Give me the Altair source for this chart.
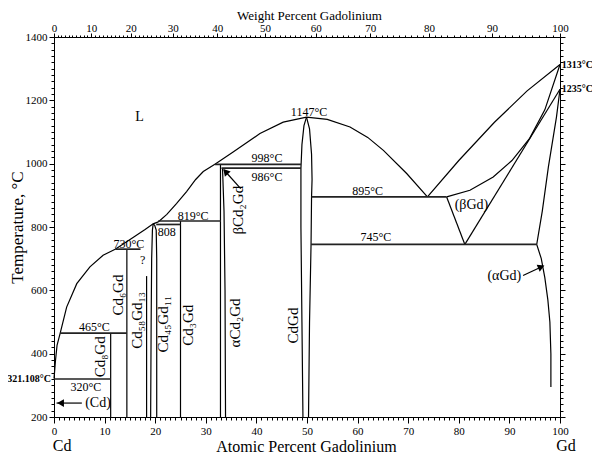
import altair as alt
import pandas as pd

FONT = "Liberation Serif"

# ---------------- phase boundaries: (atomic % Gd, temperature °C) ----------------
liq_cd = [(0, 321.1), (0.3, 379), (0.6, 426), (1.2, 463), (2.5, 547), (4.5, 621),
          (7.1, 674), (9.7, 711), (12.1, 730)]
liq_mid = [(12.1, 730), (15.7, 768), (18.0, 792), (19.6, 810), (20.6, 816)]
liq_cd2gd = [(20.6, 816), (22.3, 840), (24.2, 874), (26.2, 912), (28.0, 950),
             (29.5, 975), (31.8, 998)]
liq_dome = [(31.8, 998), (35.4, 1037), (40.7, 1095), (45.3, 1131), (49.9, 1147),
            (54.0, 1140), (58.5, 1116), (62.0, 1083), (65.1, 1042), (69.7, 969), (73.8, 895)]
liq_gd = [(73.8, 895), (80.0, 1010), (87.0, 1130), (93.5, 1230), (100, 1313)]
sol_bgd = [(77.6, 895), (82.2, 916), (86.8, 958), (90.5, 1010), (94.0, 1080),
           (97.0, 1170), (100, 1313)]
bgd_left = [(77.6, 895), (81.2, 745)]
bgd_right = [(81.2, 745), (100, 1235)]
agd = [(100, 1235), (99.3, 1147), (97.7, 989), (96.5, 850), (95.4, 745), (96.3, 700),
       (97.0, 640), (97.6, 570), (98.0, 500), (98.2, 400), (98.2, 295)]
cdgd_left = [(49.2, 200), (49.0, 500), (48.8, 800), (48.8, 985), (49.0, 1060),
             (49.4, 1120), (49.9, 1147)]
cdgd_right = [(49.9, 1147), (50.5, 1110), (50.9, 1030), (51.0, 950), (50.9, 895),
              (50.8, 745), (50.5, 500), (50.3, 200)]
cd8gd = [(11.2, 200), (11.2, 465)]
cd6gd = [(14.4, 200), (14.4, 730)]
cd58gd13 = [(18.3, 200), (18.3, 645)]
cd45gd11_left = [(19.1, 200), (19.2, 500), (19.3, 700), (19.45, 790), (19.6, 810)]
cd45gd11_right = [(19.6, 810), (19.9, 805), (20.2, 790), (20.3, 700), (20.3, 200)]
cd3gd = [(25.0, 200), (25.0, 819)]
acd2gd_left = [(32.9, 200), (32.9, 998)]
acd2gd_right = [(33.9, 200), (33.8, 600), (33.6, 850), (33.3, 986)]

# isotherms
iso_320 = [(0, 320), (11.2, 320)]
iso_465 = [(1.2, 465), (14.4, 465)]
iso_730 = [(12.1, 730), (17.1, 730)]
iso_808 = [(20.2, 808), (25.0, 808)]
iso_819 = [(20.6, 819), (33.0, 819)]
iso_998 = [(31.8, 998), (48.8, 998)]
iso_986 = [(33.1, 986), (48.8, 986)]
iso_895 = [(50.9, 895), (77.6, 895)]
iso_745 = [(50.8, 745), (95.4, 745)]

# arrow shafts
arrow_cd = [(0.5, 244), (5.5, 244)]
arrow_bcd2gd = [(36.9, 921), (33.6, 980)]
arrow_agd = [(92.7, 647), (96.6, 676)]

# arrow heads: (a, T, angle)
heads = [(1.3, 244, 270), (33.9, 975, 318), (96.3, 674, 67)]

curves = {
    "liq_cd": liq_cd, "liq_mid": liq_mid, "liq_cd2gd": liq_cd2gd, "liq_dome": liq_dome,
    "liq_gd": liq_gd, "sol_bgd": sol_bgd, "bgd_left": bgd_left, "bgd_right": bgd_right,
    "agd": agd, "cdgd_left": cdgd_left, "cdgd_right": cdgd_right, "cd8gd": cd8gd,
    "cd6gd": cd6gd, "cd58gd13": cd58gd13, "cd45l": cd45gd11_left, "cd45r": cd45gd11_right,
    "cd3gd": cd3gd, "acd2l": acd2gd_left, "acd2r": acd2gd_right,
    "ar1": arrow_cd, "ar2": arrow_bcd2gd, "ar3": arrow_agd,
}
isotherms = {
    "i320": iso_320, "i465": iso_465, "i730": iso_730, "i808": iso_808, "i819": iso_819,
    "i998": iso_998, "i986": iso_986, "i895": iso_895, "i745": iso_745,
}

# labels: (a, T, text)
iso_labels = [(6.3, 295, "320°C"), (8.0, 484, "465°C"), (14.8, 745, "730°C"),
              (27.5, 834, "819°C"), (50.4, 1163, "1147°C"), (42.1, 1018, "998°C"),
              (42.1, 958, "986°C"), (62.0, 914, "895°C"), (63.6, 767, "745°C"),
              (17.5, 697, "?")]
label_808 = [(20.5, 784, "808")]
phase_labels = [(9.0, 390, "Cd₈Gd"), (12.6, 585, "Cd₆Gd"), (16.5, 505, "Cd₅₈Gd₁₃"),
                (21.6, 493, "Cd₄₅Gd₁₁"), (26.5, 490, "Cd₃Gd"), (35.8, 497, "αCd₂Gd"),
                (36.4, 853, "βCd₂Gd"), (47.2, 489, "CdGd")]
region_labels = [(16.9, 1146, "L"), (8.7, 244, "(Cd)"), (82.5, 868, "(βGd)"),
                 (89.0, 644, "(αGd)")]
bold_left = [(-0.6, 321.1, "321.108°C")]
bold_right = [(100.35, 1313, "1313°C"), (100.35, 1235, "1235°C")]
end_labels = [(1.6, 108, "Cd"), (101.2, 108, "Gd")]

# axis ticks
x_major = list(range(0, 101, 10))
x_minor = list(range(0, 101, 1))
y_major = list(range(200, 1401, 200))
y_minor = list(range(200, 1401, 20))
wt_major = list(range(0, 101, 10))
wt_minor = list(range(0, 101, 1))
M_GD, M_CD = 157.25, 112.41


def wt_to_at(w):
    return 100.0 * (w / M_GD) / (w / M_GD + (100 - w) / M_CD)


def seg_frame(d):
    rows = []
    for name, pts in d.items():
        for i, (a, t) in enumerate(pts):
            rows.append({"seg": name, "i": i, "a": a, "T": t})
    return pd.DataFrame(rows)


def lab_frame(lst):
    return pd.DataFrame([{"a": a, "T": t, "label": s} for a, t, s in lst])


XS = alt.Scale(domain=[0, 100], nice=False, zero=False)
YS = alt.Scale(domain=[200, 1400], nice=False, zero=False)


def X(axis=None):
    return alt.X("a:Q", scale=XS, axis=axis)


def Y(axis=None):
    return alt.Y("T:Q", scale=YS, axis=axis)


common = dict(grid=False, domainColor="black", tickColor="black", labelColor="black",
              titleColor="black", labelFont=FONT, titleFont=FONT, domainWidth=1, tickWidth=1)

ax_bottom = alt.Axis(orient="bottom", values=x_major, tickSize=6, labelFontSize=11,
                     labelPadding=2, labelFlush=False, labelOverlap=False, format="d",
                     title="Atomic Percent Gadolinium", titleFontSize=16,
                     titleFontWeight="normal", titleX=252, titleY=29,
                     titleBaseline="middle", titleAlign="center", **common)
ax_left = alt.Axis(orient="left", values=y_major, tickSize=5, labelFontSize=11,
                   labelPadding=2, labelFlush=False, labelOverlap=False, format="d",
                   title="Temperature, °C", titleFontSize=17, titleFontWeight="normal",
                   titleX=-37, titleY=190, titleAngle=270, titleBaseline="middle",
                   titleAlign="center", **common)
ax_bottom_minor = alt.Axis(orient="bottom", values=x_minor, tickSize=3, labels=False,
                           domain=False, title=None, grid=False, tickColor="black")
ax_left_minor = alt.Axis(orient="left", values=y_minor, tickSize=3, labels=False,
                         domain=False, title=None, grid=False, tickColor="black")
ax_top = alt.Axis(orient="top", values=[wt_to_at(w) for w in wt_major], tickSize=4,
                  labelFontSize=11, labelPadding=0, labelFlush=False, labelOverlap=False,
                  labelExpr="format(15725*datum.value/(157.25*datum.value+112.41*(100-datum.value)), '.0f')",
                  title="Weight Percent Gadolinium", titleFontSize=13,
                  titleFontWeight="normal", titleX=255, titleY=-22,
                  titleBaseline="middle", titleAlign="center", **common)
ax_top_minor = alt.Axis(orient="top", values=[wt_to_at(w) for w in wt_minor], tickSize=2,
                        labels=False, domain=False, title=None, grid=False, tickColor="black")
ax_right = alt.Axis(orient="right", values=y_major, tickSize=5, labels=False, title=None,
                    **common)
ax_right_minor = alt.Axis(orient="right", values=y_minor, tickSize=3, labels=False,
                          domain=False, title=None, grid=False, tickColor="black")

dummy = pd.DataFrame({"a": [0, 100], "T": [200, 1400]})

main_lines = alt.Chart(seg_frame(curves)).mark_line(color="black", strokeWidth=1.2).encode(
    x=X(ax_bottom), y=Y(ax_left), detail="seg:N", order="i:Q")
iso_lines = alt.Chart(seg_frame(isotherms)).mark_line(color="#222222", strokeWidth=1.7).encode(
    x=X(), y=Y(), detail="seg:N", order="i:Q")
minor1 = alt.Chart(dummy).mark_point(opacity=0).encode(x=X(ax_bottom_minor), y=Y(ax_left_minor))
major2 = alt.Chart(dummy).mark_point(opacity=0).encode(x=X(ax_top), y=Y(ax_right))
minor2 = alt.Chart(dummy).mark_point(opacity=0).encode(x=X(ax_top_minor), y=Y(ax_right_minor))

head_df = pd.DataFrame([{"a": a, "T": t, "ang": g} for a, t, g in heads])
arrow_heads = alt.Chart(head_df).mark_point(shape="triangle-up", filled=True, color="black",
                                            opacity=1, size=60).encode(
    x=X(), y=Y(), angle=alt.Angle("ang:Q", scale=None))

t_iso = alt.Chart(lab_frame(iso_labels)).mark_text(font=FONT, fontSize=12, color="black").encode(
    x=X(), y=Y(), text="label:N")
t_808 = alt.Chart(lab_frame(label_808)).mark_text(font=FONT, fontSize=12, color="black",
                                                  align="left").encode(x=X(), y=Y(), text="label:N")
t_phase = alt.Chart(lab_frame(phase_labels)).mark_text(font=FONT, fontSize=15, color="black",
                                                       angle=270).encode(
    x=X(), y=Y(), text="label:N")
t_region = alt.Chart(lab_frame(region_labels)).mark_text(font=FONT, fontSize=14,
                                                         color="black").encode(
    x=X(), y=Y(), text="label:N")
t_bl = alt.Chart(lab_frame(bold_left)).mark_text(font=FONT, fontSize=10, fontWeight="bold",
                                                 color="black", align="right").encode(
    x=X(), y=Y(), text="label:N")
t_br = alt.Chart(lab_frame(bold_right)).mark_text(font=FONT, fontSize=10, fontWeight="bold",
                                                  color="black", align="left").encode(
    x=X(), y=Y(), text="label:N")
t_end = alt.Chart(lab_frame(end_labels)).mark_text(font=FONT, fontSize=16,
                                                   color="black").encode(
    x=X(), y=Y(), text="label:N")

chart = alt.layer(
    main_lines, iso_lines, minor1, major2, minor2, arrow_heads,
    t_iso, t_808, t_phase, t_region, t_bl, t_br, t_end,
).resolve_scale(x="independent", y="independent").properties(
    width=506, height=380,
    autosize=alt.AutoSizeParams(type="none"),
    padding={"left": 46, "top": 29, "right": 32, "bottom": 36},
    background="white",
).configure_view(stroke=None)

chart.save("out.html", embed_options={"renderer": "svg", "actions": False})
